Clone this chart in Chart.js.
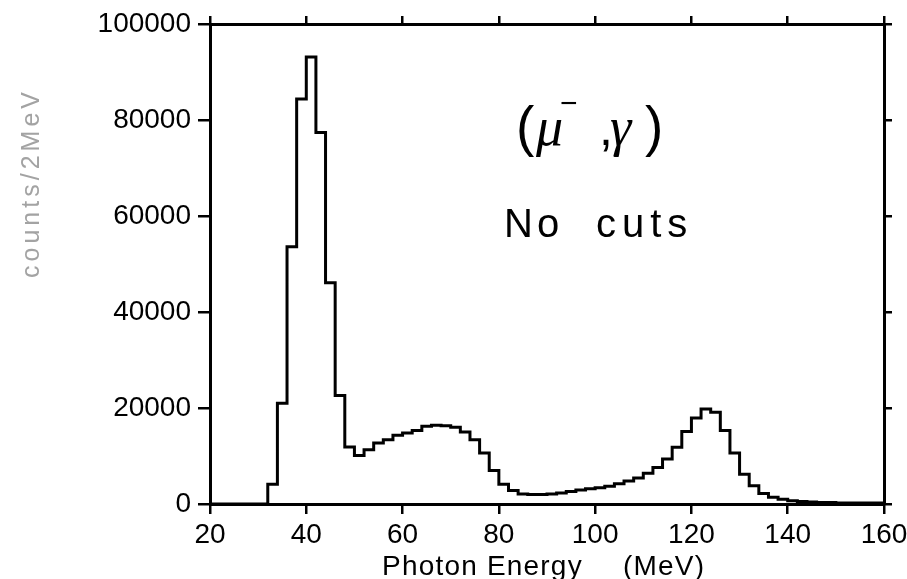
<!DOCTYPE html>
<html>
<head>
<meta charset="utf-8">
<script src="https://cdn.jsdelivr.net/npm/chart.js@4/dist/chart.umd.min.js"></script>
<style>
  html, body { margin: 0; padding: 0; background: #ffffff; }
  #wrap { width: 907px; height: 579px; }
</style>
</head>
<body>
<div id="wrap"><canvas id="c" width="907" height="579"></canvas></div>
<script>
// Lower edges of the 2 MeV bins (MeV)
const binLow = [20, 22, 24, 26, 28, 30, 32, 34, 36, 38, 40, 42, 44, 46, 48, 50, 52, 54, 56, 58,
  60, 62, 64, 66, 68, 70, 72, 74, 76, 78, 80, 82, 84, 86, 88, 90, 92, 94, 96, 98,
  100, 102, 104, 106, 108, 110, 112, 114, 116, 118, 120, 122, 124, 126, 128, 130, 132, 134, 136, 138,
  140, 142, 144, 146, 148, 150, 152, 154, 156, 158];
const binWidth = 2;
// counts per 2 MeV bin
const counts = [0, 0, 0, 0, 0, 0, 4100, 21000, 53600, 84400, 93100, 77400, 46100, 22600, 11900, 10100, 11300, 12700, 13400, 14300,
  14800, 15300, 16200, 16400, 16300, 16000, 15000, 13400, 10600, 7000, 4100, 2800, 2100, 2000, 2000, 2100, 2300, 2600, 2900, 3200,
  3400, 3700, 4200, 4800, 5400, 6400, 7600, 9400, 11800, 15100, 17900, 19800, 19100, 15300, 10600, 6200, 3800, 2200, 1400, 1000,
  700, 500, 400, 300, 300, 200, 200, 200, 200, 200];
const xTicks = [20, 40, 60, 80, 100, 120, 140, 160];
const yTicks = [0, 20000, 40000, 60000, 80000, 100000];
const xTitleA = 'Photon Energy';
const xTitleB = '(MeV)';
const yTitle = 'counts/2MeV';

const points = binLow.map((x, i) => ({ x: x, y: counts[i] }));
points.push({ x: binLow[binLow.length - 1] + binWidth, y: counts[counts.length - 1] });

const sans = '"Liberation Sans", Arial, Helvetica, sans-serif';
const serifIt = 'italic 54px "Liberation Serif", "DejaVu Serif", serif';

const textPlugin = {
  id: 'texts',
  afterDraw(chart) {
    const ctx = chart.ctx;
    ctx.save();
    ctx.fillStyle = '#000';
    ctx.textBaseline = 'alphabetic';
    ctx.textAlign = 'left';
    // (mu^-, gamma)
    ctx.font = '55px ' + sans;
    ctx.fillText('(', 516, 145);
    ctx.font = serifIt;
    ctx.fillText('\u03BC', 536, 145);
    ctx.font = '30px ' + sans;
    ctx.fillText('\u2212', 560, 113);
    ctx.font = '50px ' + sans;
    ctx.fillText(',', 599, 145);
    ctx.font = serifIt;
    ctx.fillText('\u03B3', 610, 145);
    ctx.font = '55px ' + sans;
    ctx.fillText(')', 645, 145);
    // No cuts
    ctx.font = '40px ' + sans;
    ctx.letterSpacing = '4px';
    ctx.fillText('No', 504, 237);
    ctx.letterSpacing = '6px';
    ctx.fillText('cuts', 596, 237);
    // x title
    ctx.letterSpacing = '1.2px';
    ctx.font = '28px ' + sans;
    ctx.fillText(xTitleA, 382, 575);
    ctx.fillText(xTitleB, 623, 575);
    // y title
    ctx.translate(32, 183);
    ctx.rotate(-Math.PI / 2);
    ctx.textAlign = 'center';
    ctx.fillStyle = '#a3a3a3';
    ctx.font = '25px ' + sans;
    ctx.letterSpacing = '4px';
    ctx.textBaseline = 'middle';
    ctx.fillText(yTitle, 0, 0);
    ctx.restore();
  }
};

const tickGrid = (len) => ({
  display: true, drawOnChartArea: false, drawTicks: true,
  tickLength: len, tickWidth: 2.5, tickColor: '#000', color: '#000', lineWidth: 2.5
});
const border = { display: true, color: '#000', width: 3 };
const noPad = (h) => (s) => { s.height = h; s.paddingLeft = 0; s.paddingRight = 0; };

new Chart(document.getElementById('c'), {
  type: 'line',
  data: {
    datasets: [{
      data: points,
      stepped: 'before',
      borderColor: '#000',
      borderWidth: 3,
      pointRadius: 0,
      fill: false
    }]
  },
  options: {
    responsive: false,
    animation: false,
    layout: { padding: 0 },
    plugins: { legend: { display: false }, tooltip: { enabled: false } },
    scales: {
      x: {
        type: 'linear', position: 'bottom', min: 20, max: 160,
        afterBuildTicks: (s) => { s.ticks = xTicks.map(v => ({ value: v })); },
        ticks: { color: '#000', font: { family: sans, size: 28 }, padding: 4, maxRotation: 0, autoSkip: false },
        grid: tickGrid(10), border: border,
        afterFit: noPad(75)
      },
      x2: {
        type: 'linear', position: 'top', min: 20, max: 160,
        afterBuildTicks: (s) => { s.ticks = xTicks.map(v => ({ value: v })); },
        ticks: { display: false },
        grid: tickGrid(8), border: border,
        afterFit: noPad(24)
      },
      y: {
        type: 'linear', position: 'left', min: 0, max: 100000,
        afterBuildTicks: (s) => { s.ticks = yTicks.map(v => ({ value: v })); },
        ticks: { color: '#000', font: { family: sans, size: 28 }, padding: 7, callback: (v) => String(v) },
        grid: tickGrid(12), border: border,
        afterFit: (s) => { s.width = 210; s.paddingTop = 0; s.paddingBottom = 0; }
      },
      y2: {
        type: 'linear', position: 'right', min: 0, max: 100000,
        afterBuildTicks: (s) => { s.ticks = yTicks.map(v => ({ value: v })); },
        ticks: { display: false },
        grid: tickGrid(8), border: border,
        afterFit: (s) => { s.width = 23; s.paddingTop = 0; s.paddingBottom = 0; }
      }
    }
  },
  plugins: [textPlugin]
});
</script>
</body>
</html>
